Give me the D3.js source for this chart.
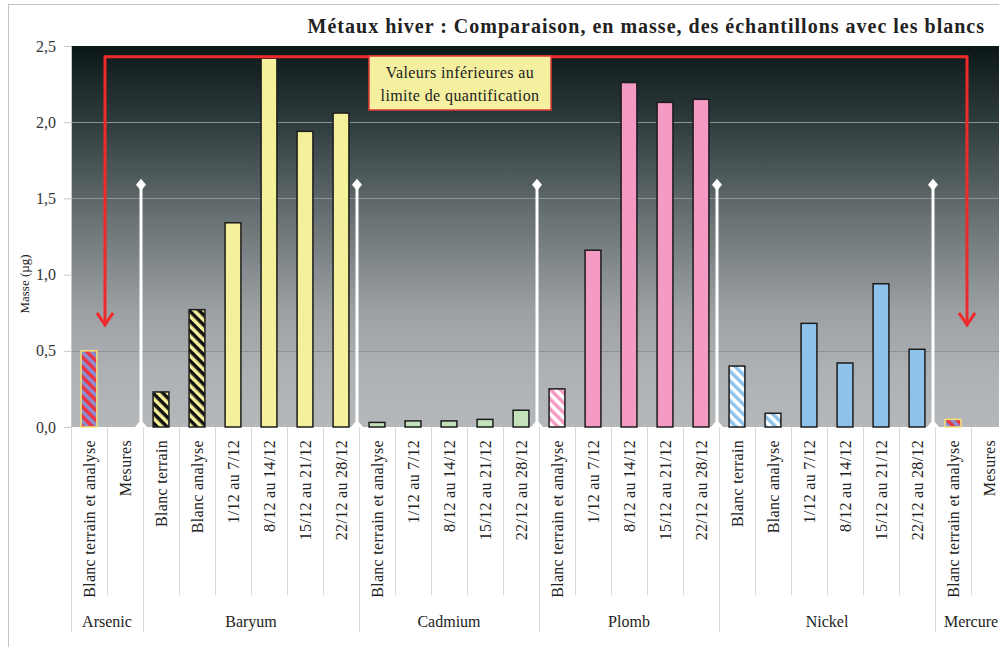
<!DOCTYPE html>
<html>
<head>
<meta charset="utf-8">
<script src="https://cdn.jsdelivr.net/npm/d3@7"></script>
<style>
	body { margin: 0; background: #fff; }
	svg { display: block; font-family: Garamond, "Liberation Serif", "DejaVu Serif", serif; }
</style>
</head>
<body>
<div class="chart"></div>
<script>
// data
const title = "Métaux hiver : Comparaison, en masse, des échantillons avec les blancs";
const groupNames = ["Arsenic", "Baryum", "Cadmium", "Plomb", "Nickel", "Mercure"];
const groupSizes = [2, 6, 5, 5, 6, 2];
const categories = [
	"Blanc terrain et analyse", "Mesures",
	"Blanc terrain", "Blanc analyse", "1/12 au 7/12", "8/12 au 14/12", "15/12 au 21/12", "22/12 au 28/12",
	"Blanc terrain et analyse", "1/12 au 7/12", "8/12 au 14/12", "15/12 au 21/12", "22/12 au 28/12",
	"Blanc terrain et analyse", "1/12 au 7/12", "8/12 au 14/12", "15/12 au 21/12", "22/12 au 28/12",
	"Blanc terrain", "Blanc analyse", "1/12 au 7/12", "8/12 au 14/12", "15/12 au 21/12", "22/12 au 28/12",
	"Blanc terrain et analyse", "Mesures"
];
const masses = [
	0.50, null,
	0.23, 0.77, 1.34, 2.42, 1.94, 2.06,
	0.03, 0.04, 0.04, 0.05, 0.11,
	0.25, 1.16, 2.26, 2.13, 2.15,
	0.40, 0.09, 0.68, 0.42, 0.94, 0.51,
	0.05, null
];
const yTicks = [0, 0.5, 1, 1.5, 2, 2.5];
const noteLines = ["Valeurs inférieures au", "limite de quantification"];

// styles per group: solid colour, hatch colours
const groupColor = ["#8a8fd4", "#f4f09c", "#c3e2bb", "#f49ac3", "#8ec3eb", "#8a8fd4"];
const hatchPair = [["#8a8fd4", "#ee3340"], ["#111", "#f4f09c"], null, ["#fff", "#f49ac3"], ["#fff", "#8ec3eb"], ["#8a8fd4", "#ee3340"]];

let width = 999, height = 647;
let mLeft = 71, mRight = 1007, mTop = 46, mBottom = 427;

let svg = d3.select(".chart").append("svg")
	.attr("width", width)
	.attr("height", height);

let defs = svg.append("defs");
let grad = defs.append("linearGradient").attr("id", "bg")
	.attr("x1", 0).attr("y1", 0).attr("x2", 0).attr("y2", 1);
[["0%", "#0b1717"], ["22%", "#334042"], ["45%", "#687173"], ["70%", "#9da1a4"], ["85%", "#aeb1b3"], ["100%", "#b5b8ba"]]
	.forEach(s => grad.append("stop").attr("offset", s[0]).attr("stop-color", s[1]));

hatchPair.forEach((p, i) => {
	if (!p) return;
	let pat = defs.append("pattern").attr("id", "hatch" + i)
		.attr("patternUnits", "userSpaceOnUse")
		.attr("width", 7).attr("height", 7)
		.attr("patternTransform", "rotate(-45)");
	pat.append("rect").attr("width", 7).attr("height", 7).attr("fill", p[0]);
	pat.append("rect").attr("width", 3.5).attr("height", 7).attr("fill", p[1]);
});

// group index of each category
let groupOf = [];
groupSizes.forEach((n, g) => { for (let k = 0; k < n; k++) groupOf.push(g); });
let groupStart = groupSizes.map((n, g) => d3.sum(groupSizes.slice(0, g)));

let x = d3.scaleBand().domain(d3.range(categories.length)).range([mLeft, mRight])
	.paddingInner(0.56).paddingOuter(0.28);
let y = d3.scaleLinear().domain([0, 2.5]).range([mBottom, mTop]);
let step = x.step();
let edge = i => mLeft + i * step;

// outer frame
svg.append("rect").attr("x", 8.5).attr("y", 4.5).attr("width", 1000).attr("height", 700)
	.attr("fill", "none").attr("stroke", "#c4c4c4");

// plot background
svg.append("rect").attr("x", mLeft).attr("y", mTop).attr("width", mRight - mLeft).attr("height", mBottom - mTop)
	.attr("fill", "url(#bg)");

// gridlines
svg.append("g").selectAll("line").data(yTicks.slice(1, -1)).enter().append("line")
	.attr("x1", mLeft).attr("x2", mRight)
	.attr("y1", d => Math.round(y(d)) + 0.5).attr("y2", d => Math.round(y(d)) + 0.5)
	.attr("stroke", "#8d9294").attr("stroke-width", 1);

// y axis
let yAxis = d3.axisLeft(y).tickValues(yTicks).tickSize(7).tickPadding(8)
	.tickFormat(d => d3.format(".1f")(d).replace(".", ","));
let ya = svg.append("g").attr("transform", "translate(" + mLeft + ",0)").call(yAxis);
ya.attr("font-family", null).attr("font-size", null);
ya.select(".domain").attr("stroke", "#c8c8c8");
ya.selectAll(".tick line").attr("stroke", "#c8c8c8");
ya.selectAll(".tick text").attr("font-size", 16).attr("fill", "#333");

svg.append("text")
	.attr("transform", "translate(29,284) rotate(-90)")
	.attr("text-anchor", "middle").attr("font-size", 13).attr("fill", "#222")
	.text("Masse (µg)");

// title
svg.append("text").attr("x", 985).attr("y", 33).attr("text-anchor", "end")
	.attr("font-size", 20).attr("font-weight", "bold").attr("fill", "#222")
	.attr("letter-spacing", 1)
	.text(title);

// white separators between groups
let sep = svg.append("g");
groupStart.slice(1).forEach(s => {
	let sx = edge(s) - 2;
	sep.append("line").attr("x1", sx).attr("x2", sx).attr("y1", y(1.59)).attr("y2", mBottom)
		.attr("stroke", "#fff").attr("stroke-width", 3);
	sep.append("path")
		.attr("d", "M" + sx + "," + (y(1.59) - 6) + "l5,6l-5,6l-5,-6z")
		.attr("fill", "#fff");
	sep.append("path")
		.attr("d", "M" + (sx - 6) + "," + mBottom + "l6,-7l6,7z")
		.attr("fill", "#fff");
});

// bars
let bars = svg.append("g").selectAll("rect")
	.data(masses.map((v, i) => ({ v: v, i: i, g: groupOf[i], label: categories[i] })).filter(d => d.v !== null))
	.enter().append("rect")
	.attr("x", d => x(d.i))
	.attr("width", x.bandwidth())
	.attr("y", d => y(d.v))
	.attr("height", d => mBottom - y(d.v))
	.attr("fill", d => (hatchPair[d.g] && d.label.indexOf("Blanc") === 0) ? "url(#hatch" + d.g + ")" : groupColor[d.g])
	.attr("stroke", d => (d.g === 0 || d.g === 5) ? "#f3e27a" : "#1c1c1c")
	.attr("stroke-width", 1.5);

// red bracket
let bx1 = edge(1) - 2, bx2 = edge(25) - 4, by = y(2.43), tip = y(0.67);
svg.append("path")
	.attr("d", "M" + bx1 + "," + tip + "V" + by + "H" + bx2 + "V" + tip)
	.attr("fill", "none").attr("stroke", "#ee2a2a").attr("stroke-width", 3);
[bx1, bx2].forEach(ax => {
	svg.append("path")
		.attr("d", "M" + (ax - 8) + "," + (tip - 12) + "L" + ax + "," + tip + "L" + (ax + 8) + "," + (tip - 12))
		.attr("fill", "none").attr("stroke", "#ee2a2a").attr("stroke-width", 3).attr("stroke-linejoin", "miter");
});

// note box
let nb = svg.append("g").attr("transform", "translate(369,56)");
nb.append("rect").attr("width", 182).attr("height", 54)
	.attr("fill", "#f5f0a0").attr("stroke", "#e23a3a").attr("stroke-width", 1.5);
noteLines.forEach((t, k) => {
	nb.append("text").attr("x", 91).attr("y", 22 + k * 23).attr("text-anchor", "middle")
		.attr("font-size", 16).attr("letter-spacing", 0.4).attr("fill", "#222").text(t);
});

// category labels and dividers below axis
let lab = svg.append("g");
d3.range(categories.length + 1).forEach(i => {
	let isGroup = groupStart.indexOf(i) >= 0 || i === categories.length;
	lab.append("line").attr("x1", edge(i) + 0.5).attr("x2", edge(i) + 0.5)
		.attr("y1", mBottom).attr("y2", isGroup ? 632 : 595)
		.attr("stroke", "#d9d9d9");
});
lab.selectAll("text.cat").data(categories).enter().append("text")
	.attr("class", "cat")
	.attr("transform", (d, i) => "translate(" + (x(i) + x.bandwidth() / 2 + 5.5) + ",440) rotate(-90)")
	.attr("text-anchor", "end")
	.attr("font-size", 16).attr("letter-spacing", 0.3).attr("fill", "#222")
	.text(d => d);
lab.selectAll("text.grp").data(groupNames).enter().append("text")
	.attr("class", "grp")
	.attr("x", (d, g) => edge(groupStart[g]) + groupSizes[g] * step / 2)
	.attr("y", 627)
	.attr("text-anchor", "middle")
	.attr("font-size", 16).attr("fill", "#222")
	.text(d => d);
</script>
</body>
</html>
